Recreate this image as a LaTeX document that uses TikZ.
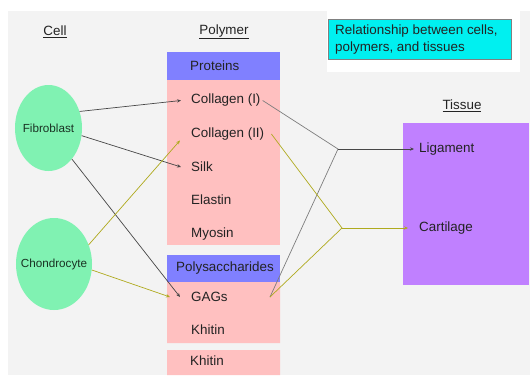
\documentclass[tikz,border=0pt]{standalone}
\usepackage{fontspec}
\setmainfont{Liberation Sans}
\usetikzlibrary{shapes.geometric,arrows.meta}
\definecolor{bg}{RGB}{243,243,243}
\definecolor{ink}{RGB}{35,35,35}
\definecolor{hdblue}{RGB}{128,128,255}
\definecolor{pink}{RGB}{255,192,192}
\definecolor{cellgreen}{RGB}{128,242,178}
\definecolor{cellink}{RGB}{25,50,35}
\definecolor{tissue}{RGB}{192,128,255}
\definecolor{capcyan}{RGB}{0,240,240}
\definecolor{darkline}{RGB}{70,70,70}
\definecolor{greyline}{RGB}{125,125,125}
\definecolor{yline}{RGB}{175,170,30}
\begin{document}
\begin{tikzpicture}[x=1bp, y=-1bp,
      font=\fontsize{13.4bp}{16.6bp}\selectfont, text=ink,
      item/.style={anchor=west, inner sep=0pt},
      cellnode/.style={ellipse, fill=cellgreen, inner sep=0pt, text=cellink,
                       minimum width=#1, font=\fontsize{11.7bp}{14bp}\selectfont},
      link/.style={draw=greyline, line width=.7bp},
      ylink/.style={draw=yline, line width=.7bp},
      tip/.style={-{Stealth[length=4bp, width=3.4bp]}}]
      \useasboundingbox (0, 0) rectangle (530, 375);
      \fill[bg] (8, 11) rectangle (530, 375);
      \fill[white] (327, 10) rectangle (520, 72);
      % polymer column and tissue box
      \fill[hdblue] (167, 52) rectangle (280, 80);
      \fill[pink] (167, 80) rectangle (280, 245);
      \fill[hdblue] (167, 255) rectangle (280, 282);
      \fill[pink] (167, 282) rectangle (280, 343)
                  (167, 350) rectangle (280, 375);
      \fill[tissue] (403, 123) rectangle (529, 285);
      \draw[fill=capcyan, draw=gray, line width=.7bp] (328, 19) rectangle (511, 59);
      \path (335, 39.5) node (cap) [item, align=left] {Relationship between cells,\\polymers, and tissues};
      % headings
      \path (55, 32) node (cell) {\underline{Cell}}
            (224, 32) node (polym) {\underline{Polymer}}
            (462, 106) node (tiss) {\underline{Tissue}};
      % cells
      \path (48.5, 128) node (fib) [cellnode=67bp, minimum height=86bp] {\makebox[0pt]{Fibroblast}}
            (54, 264) node (chon) [cellnode=76bp, minimum height=92bp] {\makebox[0pt]{Chondrocyte}};
      % polymers
      \path (190, 66) node (prot) [item] {Proteins}
            (191, 100.5) node (c1) [item] {Collagen (I)}
            (191, 134) node (c2) [item] {Collagen (II)}
            (191, 167) node (silk) [item] {Silk}
            (191, 200) node (elas) [item] {Elastin}
            (191, 234) node (myo) [item] {Myosin}
            (176, 268.5) node (psac) [item] {Polysaccharides}
            (191, 297) node (gags) [item] {GAGs}
            (191, 330) node (kh1) [item] {Khitin}
            (190, 361) node (kh2) [item] {Khitin};
      % tissues
      \path (419, 149) node (lig) [item] {Ligament}
            (419, 228) node (cart) [item] {Cartilage};
      \coordinate (gr) at (270, 297);
      \coordinate (jl) at (338, 149);
      \coordinate (jc) at (342, 228);
      % cell -> polymer
      \draw[link, tip, draw=darkline] (fib.28) -- ([xshift=-10bp]c1.west);
      \draw[link, tip, draw=darkline] (fib.-13) -- ([xshift=-10bp]silk.west);
      \draw[link, tip, draw=darkline] (fib.-53) -- ([xshift=-11bp]gags.west);
      \draw[ylink, tip] (chon.29) -- ([xshift=-11bp]c2.south west);
      \draw[ylink, tip] (chon.-9) -- ([xshift=-21bp]gags.west);
      % polymer -> tissue
      \draw[link] ([xshift=2bp]c1.east) -- (jl) -- (gr);
      \draw[link, tip, draw=darkline] (jl) -- ([xshift=-5bp]lig.west);
      \draw[ylink] ([xshift=7bp]c2.east) -- (jc) -- (gr);
      \draw[ylink, tip] (jc) -- ([xshift=-11bp]cart.west);
\end{tikzpicture}
\end{document}
